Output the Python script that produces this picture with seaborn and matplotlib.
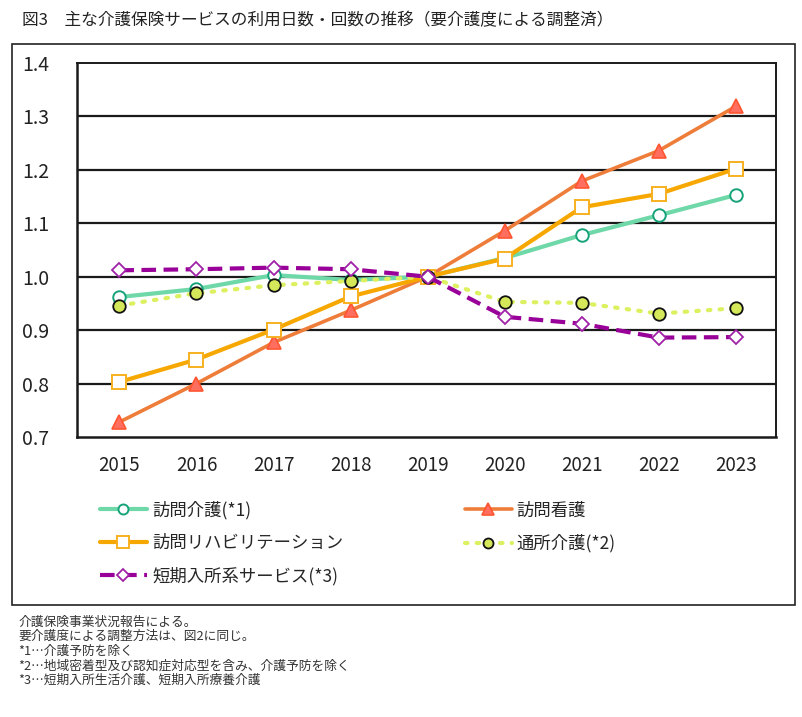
import matplotlib
matplotlib.use("Agg")
import matplotlib.pyplot as plt
import seaborn as sns
import pandas as pd
from matplotlib.patches import Rectangle

sns.set_theme(style="white")
plt.rcParams['font.family'] = ['Noto Sans CJK JP', 'DejaVu Sans']

years = [2015, 2016, 2017, 2018, 2019, 2020, 2021, 2022, 2023]
homon_kaigo = [0.962, 0.977, 1.003, 0.994, 1.000, 1.035, 1.078, 1.115, 1.153]
homon_kango = [0.728, 0.800, 0.877, 0.937, 1.000, 1.086, 1.179, 1.236, 1.319]
homon_riha = [0.803, 0.845, 0.901, 0.963, 1.000, 1.034, 1.130, 1.155, 1.202]
tsusho_kaigo = [0.946, 0.969, 0.984, 0.992, 1.000, 0.953, 0.951, 0.931, 0.941]
tanki_nyusho = [1.012, 1.014, 1.017, 1.014, 1.000, 0.925, 0.912, 0.886, 0.887]

labels = ["訪問介護(*1)", "訪問看護", "訪問リハビリテーション", "通所介護(*2)", "短期入所系サービス(*3)"]
yticks = [0.7, 0.8, 0.9, 1.0, 1.1, 1.2, 1.3, 1.4]
ytick_labels = ["0.7", "0.8", "0.9", "1.0", "1.1", "1.2", "1.3", "1.4"]

title = "図3　主な介護保険サービスの利用日数・回数の推移（要介護度による調整済）"
notes = ["介護保険事業状況報告による。",
         "要介護度による調整方法は、図2に同じ。",
         "*1…介護予防を除く",
         "*2…地域密着型及び認知症対応型を含み、介護予防を除く",
         "*3…短期入所生活介護、短期入所療養介護"]

fig = plt.figure(figsize=(8.03, 7.17), dpi=100)
fig.patch.set_facecolor("white")
ax = fig.add_axes([77/803, 1-437/717, (776-77)/803, (437-63)/717])

# outer frame
fig.patches.append(Rectangle((12/803, 1-605/717), 783/803, 561/717,
                             transform=fig.transFigure, fill=False,
                             edgecolor="#222222", linewidth=1.2, zorder=0))

styles = [
    dict(color="#6fd8a8", marker="o", markersize=9, markerfacecolor="white",
         markeredgecolor="#16a37a", markeredgewidth=1.4, linestyle="-", linewidth=3.0),
    dict(color="#ee7d3a", marker="^", markersize=10, markerfacecolor="#ff6e5e",
         markeredgecolor="#ff5530", markeredgewidth=1.2, linestyle="-", linewidth=2.6),
    dict(color="#f7a800", marker="s", markersize=10, markerfacecolor="white",
         markeredgecolor="#f8b020", markeredgewidth=1.4, linestyle="-", linewidth=3.0),
    dict(color="#ddf060", marker="o", markersize=9, markerfacecolor="#d4e85a",
         markeredgecolor="#111111", markeredgewidth=1.3, linestyle=(0, (0.6, 2.2)), linewidth=3.0,
         dash_capstyle="round"),
    dict(color="#990099", marker="D", markersize=7.5, markerfacecolor="white",
         markeredgecolor="#a020a8", markeredgewidth=1.3, linestyle=(0, (3.5, 1.8)), linewidth=3.0),
]
series = [homon_kaigo, homon_kango, homon_riha, tsusho_kaigo, tanki_nyusho]

for lab, vals, st in zip(labels, series, styles):
    df = pd.DataFrame({"year": years, "value": vals})
    sns.lineplot(data=df, x="year", y="value", ax=ax, label=lab, zorder=3, **st)

ax.set_xlim(2014.45, 2023.52)
ax.set_ylim(0.7, 1.4)
ax.set_yticks(yticks)
ax.set_yticklabels(ytick_labels)
ax.set_xticks(years)
ax.set_xticklabels([str(y) for y in years])
ax.set_xlabel("")
ax.set_ylabel("")
ax.tick_params(axis="y", length=0, pad=20, labelsize=14, colors="#222222")
ax.tick_params(axis="x", length=0, pad=13, labelsize=13.5, colors="#222222")
for yv in yticks[1:-1]:
    ax.axhline(yv, color="#1a1a1a", linewidth=1.6, zorder=1)
for sp in ax.spines.values():
    sp.set_visible(True)
    sp.set_color("#1a1a1a")
    sp.set_linewidth(1.4)
ax.spines["left"].set_linewidth(1.8)
ax.spines["bottom"].set_linewidth(1.8)

h, l = ax.get_legend_handles_labels()
order = [0, 2, 4, 1, 3]
ax.legend([h[i] for i in order], [l[i] for i in order], ncol=2,
          loc="upper left", bbox_to_anchor=(100/803, 1-501/717),
          bbox_transform=fig.transFigure, frameon=False, fontsize=12.5,
          handlelength=2.7, handletextpad=0.3, columnspacing=7.0,
          labelspacing=0.85, borderpad=0, borderaxespad=0, markerscale=0.8)

fig.text(22/803, 1-21/717, title, fontsize=12,
         color="#222222", va="center", ha="left")
for i, t in enumerate(notes):
    fig.text(18/803, 1-(622 + i*14.6)/717, t, fontsize=9.2, color="#333333",
             va="center", ha="left")

fig.savefig("out.png", dpi=100, facecolor="white")
